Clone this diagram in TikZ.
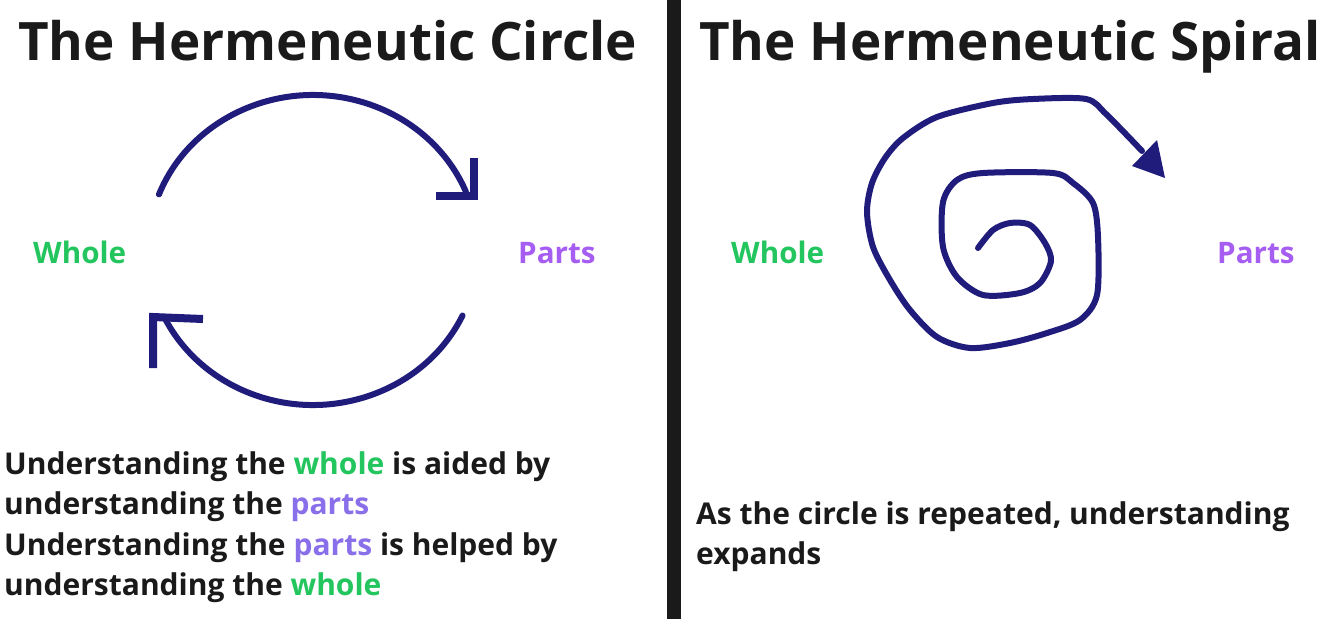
\documentclass[tikz,border=0pt]{standalone}
\usepackage{fontspec}
\usetikzlibrary{calc}
\setmainfont{Open Sans}
\definecolor{ink}{HTML}{1A1A1A}
\definecolor{navy}{HTML}{201C7C}
\definecolor{wgreen}{HTML}{22C55E}
\definecolor{ppurple}{HTML}{A65DF2}
\definecolor{pviolet}{HTML}{8A6FEA}
\begin{document}
\begin{tikzpicture}[x=1pt,y=-1pt,
  titletext/.style={font=\fontsize{53}{60}\selectfont\bfseries, text=ink, anchor=base west, inner sep=0pt},
  bodytext/.style={font=\fontsize{30}{40}\selectfont\bfseries, text=ink, anchor=base west, inner sep=0pt},
  labeltext/.style={font=\fontsize{29.6}{40}\selectfont\bfseries, anchor=base west, inner sep=0pt},
  arcline/.style={draw=navy, line width=6pt, line cap=round},
  headline/.style={draw=navy, line width=8pt, line cap=butt, line join=miter},
  spiralline/.style={draw=navy, line width=6pt, line cap=round, line join=round}]
\useasboundingbox (0,0) rectangle (1330,619);
\fill[white] (0,0) rectangle (1330,619);
% divider
\fill[ink] (667,0) rectangle (681,619);
% titles
\node[titletext] (t1) at (18,60) {The Hermeneutic Circle};
\node[titletext] (t2) at (699,60) {The Hermeneutic Spiral};
% labels
\node[labeltext, text=wgreen] (w1) at (33,263) {Whole};
\node[labeltext, text=ppurple] (p1) at (518,263) {Parts};
\node[labeltext, text=wgreen] (w2) at (731,263) {Whole};
\node[labeltext, text=ppurple] (p2) at (1217,263) {Parts};
% circle arrows
\coordinate (c) at (313,250);
\draw[arcline] (c) ++(201:165 and 155) arc[start angle=201, end angle=338, x radius=165, y radius=155];
\coordinate (h1) at (474,196);
\draw[headline] ($(h1)+(-38,0)$) -- (h1) -- ($(h1)+(0,-38)$);
\draw[arcline] (c) ++(25:165 and 155) arc[start angle=25, end angle=154, x radius=165, y radius=155];
\coordinate (h2) at (153,317);
\draw[headline] ($(h2)+(50,2)$) -- (h2) -- ($(h2)+(0,51)$);
% spiral
\draw[spiralline] plot[smooth, tension=0.5] coordinates {
 (978,248) (993,230) (1010,223) (1030,225) (1045,243) (1051,261) (1040,283) (1020,293)
 (983,295) (957,277) (943,247) (943,202) (957,180) (983,173) (1053,173) (1073,183)
 (1093,203) (1098,237) (1097,295) (1080,320) (1047,333) (1010,343) (970,348) (937,337)
 (910,310) (890,280) (873,247) (867,212) (872,183) (885,158) (903,138) (937,117)
 (993,103) (1033,99) (1086,99) (1106,114) (1142,151)};
\fill[navy] (1132,166) -- (1157,140) -- (1165,178) -- cycle;
% body text left
\node[bodytext] (l1) at (4,474) {Understanding the \textcolor{wgreen}{whole} is aided by};
\node[bodytext] (l2) at (4,514.5) {understanding the \textcolor{pviolet}{parts}};
\node[bodytext] (l3) at (4,555) {Understanding the \textcolor{pviolet}{parts} is helped by};
\node[bodytext] (l4) at (4,595.5) {understanding the \textcolor{wgreen}{whole}};
% body text right
\node[bodytext] (r1) at (696,524) {As the circle is repeated, understanding};
\node[bodytext] (r2) at (696,564) {expands};
\end{tikzpicture}
\end{document}
